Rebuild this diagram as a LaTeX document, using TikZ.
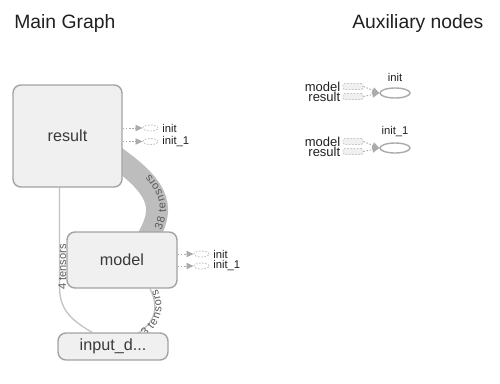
\documentclass[tikz,border=0pt]{standalone}
\usepackage{fontspec}
\setmainfont{Liberation Sans}
\setsansfont{Liberation Sans}
\usetikzlibrary{arrows.meta,calc,positioning,shapes.geometric,backgrounds,decorations.text}
\definecolor{ink}{HTML}{202020}
\definecolor{muted}{HTML}{3A3A3A}
\definecolor{boxline}{HTML}{A3A3A3}
\definecolor{boxfill}{HTML}{F0F0F0}
\definecolor{edgeline}{HTML}{C2C2C2}
\definecolor{bandline}{HTML}{BDBDBD}
\definecolor{edgetext}{HTML}{5A5A5A}
\definecolor{refline}{HTML}{ABABAB}
\definecolor{ghostline}{HTML}{C8C8C8}
\newlength\upx
\setlength\upx{0.02cm}

\begin{document}
\begin{tikzpicture}[
  x=\upx, y=-\upx,
  font=\sffamily,
  text=ink,
  metanode/.style={
    draw=boxline,
    fill=boxfill,
    line width=1.4\upx,
    rounded corners=8\upx,
    minimum width=109\upx,
    inner sep=0pt,
    text=muted,
    font=\sffamily\fontsize{9.2}{11}\selectfont
  },
  ghost/.style={
    ellipse,
    draw=ghostline,
    line width=0.5pt,
    dash pattern=on 1pt off 0.8pt,
    minimum width=15\upx,
    minimum height=6\upx,
    inner sep=0pt
  },
  stub/.style={
    draw=ghostline,
    fill=boxfill,
    line width=0.5pt,
    dash pattern=on 1pt off 0.8pt,
    rounded corners=1.5\upx,
    minimum width=20\upx,
    minimum height=6\upx,
    inner sep=0pt
  },
  auxnode/.style={
    ellipse,
    draw=refline,
    fill=white,
    line width=1.4\upx,
    minimum width=30\upx,
    minimum height=10\upx,
    inner sep=0pt
  },
  small label/.style={inner sep=0pt, font=\sffamily\fontsize{6.4}{7}\selectfont},
  stub label/.style={inner sep=0pt, font=\sffamily\fontsize{7.4}{8}\selectfont},
  title/.style={inner sep=0pt, font=\sffamily\fontsize{11}{13}\selectfont},
  ref edge/.style={
    -{Triangle[length=4pt,width=3.6pt]},
    draw=refline,
    line width=0.5pt,
    dash pattern=on 0.9pt off 0.9pt
  },
  thin edge/.style={draw=edgeline, line width=1.3\upx},
  band/.style={draw=bandline, line width=22\upx},
  tensor label/.style={
    decoration={text along path, text align=center, raise=-3.7pt,
      text={|\fontsize{6.3}{7}\selectfont\color{edgetext}|#1}},
    decorate
  }
]
\useasboundingbox (0,0) rectangle (500,383);

% Titles
\node[title, anchor=base west] (main title) at (14,28) {Main Graph};
\node[title, anchor=base west] (aux title) at (352,28) {Auxiliary nodes};

% Main graph
\node[metanode, minimum height=102\upx] (result) at (67.5,136) {result};
\node[metanode, minimum height=56\upx, minimum width=110\upx] (model) at (122,260) {model};
\node[metanode, minimum height=27\upx, minimum width=110\upx] (inputd) at (113,346.5) {input\_d...};

% Edges sit behind the boxes
\begin{scope}[on background layer]
  \draw[band, postaction={tensor label=38 tensors,
      decoration={raise=-5pt, text align={center, right indent=16pt}}}]
    ($(model.north)+(25,8)$) .. controls +(16,-28) and +(55,37) .. ($(result.south east)+(-12,-34)$);
  \draw[thin edge, postaction={tensor label=4 tensors}]
    ($(inputd.north)+(-21,0)$) .. controls +(-26,-15) and +(0,20) .. ($(result.south)+(-8,98)$)
    -- ($(result.south)+(-8,0)$);
  \draw[thin edge, postaction={tensor label=3 tensors}]
    ($(inputd.north)+(25,1)$) .. controls +(18,-12) and +(9,18) .. ($(model.south)+(28,0)$);
\end{scope}

% Out-of-graph references
\node[ghost] (res init) at (150.5,128) {};
\node[ghost] (res init1) at (150.5,141.5) {};
\node[small label, anchor=west] (res init text) at (162,128) {init};
\node[small label, anchor=west] (res init1 text) at (162,141.5) {init\_1};
\draw[ref edge] (result.east |- res init) -- (res init);
\draw[ref edge] (result.east |- res init1) -- (res init1);

\node[ghost] (mod init) at (201.5,254) {};
\node[ghost] (mod init1) at (201.5,266) {};
\node[small label, anchor=west] (mod init text) at (213,254) {init};
\node[small label, anchor=west] (mod init1 text) at (213,266) {init\_1};
\draw[ref edge] (model.east |- mod init) -- (mod init);
\draw[ref edge] (model.east |- mod init1) -- (mod init1);

% Auxiliary nodes
\node[auxnode] (aux init) at (395,93) {};
\node[small label, above=5\upx of aux init] (aux init text) {init};
\node[stub] (aux init model) at (353,86.5) {};
\node[stub] (aux init result) at (353,96.5) {};
\node[stub label, left=2\upx of aux init model] (aux init model text) {model};
\node[stub label, left=2\upx of aux init result] (aux init result text) {result};
\draw[ref edge] (aux init model.east) -- (aux init.west);
\draw[ref edge] (aux init result.east) -- (aux init.west);

\node[auxnode] (aux init1) at (395,148) {};
\node[small label, above=5\upx of aux init1] (aux init1 text) {init\_1};
\node[stub] (aux init1 model) at (353,141.5) {};
\node[stub] (aux init1 result) at (353,151.5) {};
\node[stub label, left=2\upx of aux init1 model] (aux init1 model text) {model};
\node[stub label, left=2\upx of aux init1 result] (aux init1 result text) {result};
\draw[ref edge] (aux init1 model.east) -- (aux init1.west);
\draw[ref edge] (aux init1 result.east) -- (aux init1.west);

\end{tikzpicture}
\end{document}
